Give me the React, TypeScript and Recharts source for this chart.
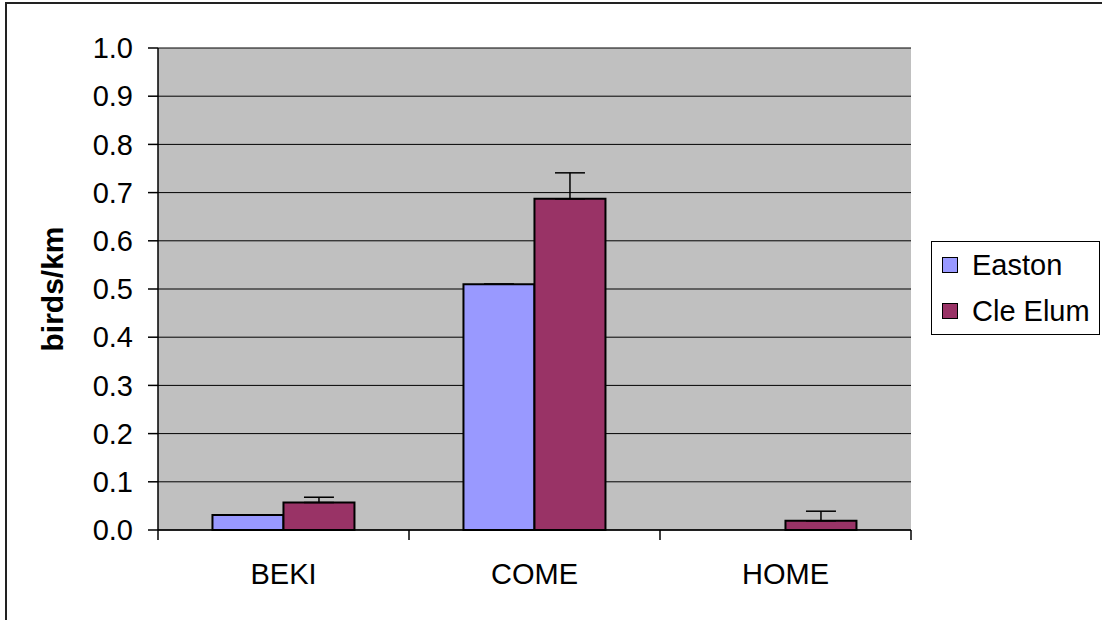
import React from 'react';
import { BarChart, Bar, XAxis, YAxis, CartesianGrid, Legend, ErrorBar } from 'recharts';

// survey sites
const sites = ['BEKI', 'COME', 'HOME'];

// mean birds/km per site
const easton = [0.031, 0.51, 0];
const cleElum = [0.057, 0.687, 0.019];

// upper error (plus only)
const eastonErr = [0, 0, 0];
const cleElumErr = [0.011, 0.054, 0.02];

const yTicks = [0, 0.1, 0.2, 0.3, 0.4, 0.5, 0.6, 0.7, 0.8, 0.9, 1.0];

const seriesNames = ['Easton', 'Cle Elum'];
const seriesColors = ['#9999FF', '#993366'];

const data = sites.map((s, i) => ({
  site: s,
  easton: easton[i],
  cleElum: cleElum[i],
  eastonErr: [0, eastonErr[i]],
  cleElumErr: [0, cleElumErr[i]],
}));

const FONT = '"Liberation Sans", Arial, sans-serif';
const LABEL_GAP = 33;
const TICK_LEN = 10;

// category label plus Excel style tick marks on the category edges
function SiteTick(props: any) {
  const { x, y, payload, index, visibleTicksCount } = props;
  const half = payload.offset || 0;
  const axisY = y - LABEL_GAP;
  const last = index === visibleTicksCount - 1;
  return (
    <g>
      <line x1={x - half} x2={x - half} y1={axisY} y2={axisY + TICK_LEN} stroke="#000" strokeWidth={1.5} />
      {last && (
        <line x1={x + half} x2={x + half} y1={axisY} y2={axisY + TICK_LEN} stroke="#000" strokeWidth={1.5} />
      )}
      <text x={x} y={y} dy="0.71em" textAnchor="middle" fill="#000" fontSize={29} fontFamily={FONT}>
        {payload.value}
      </text>
    </g>
  );
}

function LegendBox() {
  return (
    <div
      style={{
        width: 167,
        height: 92,
        border: '1px solid #000',
        background: '#fff',
        fontFamily: FONT,
        fontSize: 29,
        color: '#000',
        boxSizing: 'content-box',
      }}
    >
      {seriesNames.map((n, i) => (
        <div key={n} style={{ display: 'flex', alignItems: 'center', height: 46, paddingLeft: 10 }}>
          <span
            style={{
              display: 'inline-block',
              width: 14,
              height: 14,
              background: seriesColors[i],
              border: '1px solid #000',
              marginRight: 14,
            }}
          />
          <span>{n}</span>
        </div>
      ))}
    </div>
  );
}

export default function App() {
  return (
    <div style={{ position: 'fixed', left: 0, top: 0, width: 1102, height: 620, overflow: 'hidden', background: '#fff' }}>
      {/* chart frame, only left and top edges fall inside the picture */}
      <div
        style={{
          position: 'absolute',
          left: 5,
          top: 2,
          width: 1200,
          height: 700,
          border: '2px solid #222',
        }}
      />
      <div style={{ position: 'absolute', left: 0, top: 0 }}>
        <BarChart
          width={1102}
          height={620}
          data={data}
          margin={{ top: 48, right: 22, left: 0, bottom: 0 }}
          barCategoryGap="21.7%"
          barGap={0}
        >
          <CartesianGrid vertical={false} stroke="#000" fill="#C0C0C0" />
          <XAxis
            dataKey="site"
            height={90}
            axisLine={{ stroke: '#000', strokeWidth: 1.5 }}
            tickLine={false}
            tickSize={0}
            tickMargin={LABEL_GAP}
            tick={<SiteTick />}
          />
          <YAxis
            domain={[0, 1]}
            ticks={yTicks}
            interval={0}
            width={158}
            tickSize={10}
            tickMargin={15}
            tickFormatter={(v: number) => v.toFixed(1)}
            axisLine={{ stroke: '#000', strokeWidth: 1.5 }}
            tickLine={{ stroke: '#000', strokeWidth: 1.5 }}
            tick={{ fill: '#000', fontSize: 29, fontFamily: FONT }}
            label={{
              value: 'birds/km',
              angle: -90,
              position: 'insideLeft',
              offset: 52,
              style: { fontSize: 30, fontWeight: 'bold', fontFamily: FONT, fill: '#000', textAnchor: 'middle' },
            }}
          />
          <YAxis
            yAxisId="frame"
            orientation="right"
            domain={[0, 1]}
            width={0}
            tick={false}
            tickLine={false}
            axisLine={{ stroke: '#808080', strokeWidth: 2 }}
          />
          <Legend
            layout="vertical"
            align="right"
            verticalAlign="middle"
            content={() => <LegendBox />}
            wrapperStyle={{ position: 'absolute', left: 931, top: 241, right: 'auto', width: 169, height: 94 }}
          />
          <Bar
            dataKey="easton"
            name={seriesNames[0]}
            fill={seriesColors[0]}
            stroke="#000"
            strokeWidth={2}
            isAnimationActive={false}
          >
            <ErrorBar dataKey="eastonErr" direction="y" width={15} stroke="#000" strokeWidth={1.5} />
          </Bar>
          <Bar
            dataKey="cleElum"
            name={seriesNames[1]}
            fill={seriesColors[1]}
            stroke="#000"
            strokeWidth={2}
            isAnimationActive={false}
          >
            <ErrorBar dataKey="cleElumErr" direction="y" width={15} stroke="#000" strokeWidth={1.5} />
          </Bar>
        </BarChart>
      </div>
    </div>
  );
}
